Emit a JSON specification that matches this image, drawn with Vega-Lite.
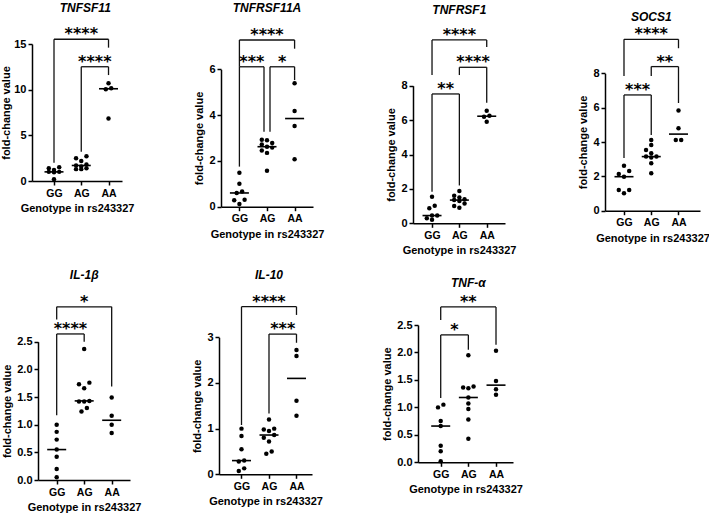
{
"$schema":"https://vega.github.io/schema/vega-lite/v6.json",
"width":709,"height":518,"autosize":"none","padding":0,"background":"white",
"config":{"view":{"stroke":null},
 "axis":{"grid":false,"domainColor":"#000","domainWidth":1.5,"tickColor":"#000","tickWidth":1.5,"tickSize":4,"labelFont":"Liberation Sans","labelFontSize":11,"labelFontWeight":"bold","labelColor":"#000","labelPadding":2,"titleFont":"Liberation Sans","titleFontSize":11,"titleFontWeight":"bold","titleColor":"#000","titlePadding":4},
 "axisX":{"labelAngle":0,"labelPadding":3,"labelFontSize":10.5},
 "circle":{"size":20,"color":"#000","opacity":1},
 "rule":{"color":"#111","strokeWidth":1.3},
 "tick":{"color":"#000","thickness":1.6}
},
"datasets":{
"pts":[
{"p":"TNFSF11","g":"GG","v":1.5},{"p":"TNFSF11","g":"GG","v":1.4},{"p":"TNFSF11","g":"GG","v":1.2},{"p":"TNFSF11","g":"GG","v":1.0},{"p":"TNFSF11","g":"GG","v":1.0},{"p":"TNFSF11","g":"GG","v":0.95},{"p":"TNFSF11","g":"GG","v":0.2},
{"p":"TNFSF11","g":"AG","v":2.7},{"p":"TNFSF11","g":"AG","v":2.5},{"p":"TNFSF11","g":"AG","v":2.2},{"p":"TNFSF11","g":"AG","v":1.8},{"p":"TNFSF11","g":"AG","v":1.7},{"p":"TNFSF11","g":"AG","v":1.6},{"p":"TNFSF11","g":"AG","v":1.4},{"p":"TNFSF11","g":"AG","v":1.3},{"p":"TNFSF11","g":"AG","v":1.3},
{"p":"TNFSF11","g":"AA","v":10.7},{"p":"TNFSF11","g":"AA","v":10.15},{"p":"TNFSF11","g":"AA","v":10.05},{"p":"TNFSF11","g":"AA","v":6.85},
{"p":"TNFRSF11A","g":"GG","v":1.48},{"p":"TNFRSF11A","g":"GG","v":1.0},{"p":"TNFRSF11A","g":"GG","v":0.66},{"p":"TNFRSF11A","g":"GG","v":0.6},{"p":"TNFRSF11A","g":"GG","v":0.3},{"p":"TNFRSF11A","g":"GG","v":0.28},{"p":"TNFRSF11A","g":"GG","v":0.12},
{"p":"TNFRSF11A","g":"AG","v":2.92},{"p":"TNFRSF11A","g":"AG","v":2.9},{"p":"TNFRSF11A","g":"AG","v":2.78},{"p":"TNFRSF11A","g":"AG","v":2.72},{"p":"TNFRSF11A","g":"AG","v":2.62},{"p":"TNFRSF11A","g":"AG","v":2.58},{"p":"TNFRSF11A","g":"AG","v":2.45},{"p":"TNFRSF11A","g":"AG","v":2.35},{"p":"TNFRSF11A","g":"AG","v":1.57},
{"p":"TNFRSF11A","g":"AA","v":5.39},{"p":"TNFRSF11A","g":"AA","v":4.18},{"p":"TNFRSF11A","g":"AA","v":3.52},{"p":"TNFRSF11A","g":"AA","v":2.07},
{"p":"TNFRSF1","g":"GG","v":1.55},{"p":"TNFRSF1","g":"GG","v":1.02},{"p":"TNFRSF1","g":"GG","v":0.87},{"p":"TNFRSF1","g":"GG","v":0.45},{"p":"TNFRSF1","g":"GG","v":0.45},{"p":"TNFRSF1","g":"GG","v":0.3},{"p":"TNFRSF1","g":"GG","v":0.2},
{"p":"TNFRSF1","g":"AG","v":1.88},{"p":"TNFRSF1","g":"AG","v":1.6},{"p":"TNFRSF1","g":"AG","v":1.5},{"p":"TNFRSF1","g":"AG","v":1.4},{"p":"TNFRSF1","g":"AG","v":1.35},{"p":"TNFRSF1","g":"AG","v":1.3},{"p":"TNFRSF1","g":"AG","v":1.15},{"p":"TNFRSF1","g":"AG","v":1.0},{"p":"TNFRSF1","g":"AG","v":0.9},
{"p":"TNFRSF1","g":"AA","v":6.55},{"p":"TNFRSF1","g":"AA","v":6.25},{"p":"TNFRSF1","g":"AA","v":6.2},{"p":"TNFRSF1","g":"AA","v":5.9},
{"p":"SOCS1","g":"GG","v":2.62},{"p":"SOCS1","g":"GG","v":2.31},{"p":"SOCS1","g":"GG","v":2.14},{"p":"SOCS1","g":"GG","v":1.98},{"p":"SOCS1","g":"GG","v":1.2},{"p":"SOCS1","g":"GG","v":1.2},{"p":"SOCS1","g":"GG","v":1.01},
{"p":"SOCS1","g":"AG","v":4.12},{"p":"SOCS1","g":"AG","v":3.83},{"p":"SOCS1","g":"AG","v":3.54},{"p":"SOCS1","g":"AG","v":3.34},{"p":"SOCS1","g":"AG","v":3.15},{"p":"SOCS1","g":"AG","v":3.15},{"p":"SOCS1","g":"AG","v":3.1},{"p":"SOCS1","g":"AG","v":2.76},{"p":"SOCS1","g":"AG","v":2.18},
{"p":"SOCS1","g":"AA","v":5.83},{"p":"SOCS1","g":"AA","v":4.8},{"p":"SOCS1","g":"AA","v":4.12},{"p":"SOCS1","g":"AA","v":4.12},
{"p":"IL-1β","g":"GG","v":1.0},{"p":"IL-1β","g":"GG","v":0.87},{"p":"IL-1β","g":"GG","v":0.73},{"p":"IL-1β","g":"GG","v":0.55},{"p":"IL-1β","g":"GG","v":0.42},{"p":"IL-1β","g":"GG","v":0.2},{"p":"IL-1β","g":"GG","v":0.05},
{"p":"IL-1β","g":"AG","v":2.37},{"p":"IL-1β","g":"AG","v":1.76},{"p":"IL-1β","g":"AG","v":1.73},{"p":"IL-1β","g":"AG","v":1.66},{"p":"IL-1β","g":"AG","v":1.43},{"p":"IL-1β","g":"AG","v":1.42},{"p":"IL-1β","g":"AG","v":1.42},{"p":"IL-1β","g":"AG","v":1.3},{"p":"IL-1β","g":"AG","v":1.24},
{"p":"IL-1β","g":"AA","v":1.49},{"p":"IL-1β","g":"AA","v":1.16},{"p":"IL-1β","g":"AA","v":1.0},{"p":"IL-1β","g":"AA","v":0.85},
{"p":"IL-10","g":"GG","v":1.0},{"p":"IL-10","g":"GG","v":0.84},{"p":"IL-10","g":"GG","v":0.55},{"p":"IL-10","g":"GG","v":0.3},{"p":"IL-10","g":"GG","v":0.28},{"p":"IL-10","g":"GG","v":0.13},{"p":"IL-10","g":"GG","v":0.07},
{"p":"IL-10","g":"AG","v":1.2},{"p":"IL-10","g":"AG","v":1.0},{"p":"IL-10","g":"AG","v":0.98},{"p":"IL-10","g":"AG","v":0.95},{"p":"IL-10","g":"AG","v":0.86},{"p":"IL-10","g":"AG","v":0.8},{"p":"IL-10","g":"AG","v":0.72},{"p":"IL-10","g":"AG","v":0.5},{"p":"IL-10","g":"AG","v":0.45},
{"p":"IL-10","g":"AA","v":2.72},{"p":"IL-10","g":"AA","v":2.59},{"p":"IL-10","g":"AA","v":1.61},{"p":"IL-10","g":"AA","v":1.28},
{"p":"TNF-α","g":"GG","v":1.05},{"p":"TNF-α","g":"GG","v":1.0},{"p":"TNF-α","g":"GG","v":0.75},{"p":"TNF-α","g":"GG","v":0.66},{"p":"TNF-α","g":"GG","v":0.3},{"p":"TNF-α","g":"GG","v":0.2},{"p":"TNF-α","g":"GG","v":0.02},
{"p":"TNF-α","g":"AG","v":1.95},{"p":"TNF-α","g":"AG","v":1.38},{"p":"TNF-α","g":"AG","v":1.36},{"p":"TNF-α","g":"AG","v":1.35},{"p":"TNF-α","g":"AG","v":1.18},{"p":"TNF-α","g":"AG","v":1.07},{"p":"TNF-α","g":"AG","v":0.97},{"p":"TNF-α","g":"AG","v":0.78},{"p":"TNF-α","g":"AG","v":0.43},
{"p":"TNF-α","g":"AA","v":2.03},{"p":"TNF-α","g":"AA","v":1.48},{"p":"TNF-α","g":"AA","v":1.33},{"p":"TNF-α","g":"AA","v":1.23}
],
"br":[
{"p":"TNFSF11","from":"GG","to":"AA","h":15.52,"yl":2.0,"yr":14.6,"s":"****"},
{"p":"TNFSF11","from":"AG","to":"AA","h":12.51,"yl":3.2,"yr":11.6,"s":"****"},
{"p":"TNFRSF11A","from":"GG","to":"AA","h":7.28,"yl":6.11,"yr":6.9,"s":"****"},
{"p":"TNFRSF11A","from":"GG","to":"AG","h":6.11,"yl":1.75,"yr":3.27,"s":"***"},
{"p":"TNFRSF11A","from":"AG","to":"AA","h":6.11,"yl":3.27,"yr":5.53,"s":"*"},
{"p":"TNFRSF1","from":"GG","to":"AA","h":10.66,"yl":8.62,"yr":10.25,"s":"****"},
{"p":"TNFRSF1","from":"AG","to":"AA","h":9.07,"yl":8.62,"yr":7.01,"s":"****"},
{"p":"TNFRSF1","from":"GG","to":"AG","h":7.52,"yl":1.84,"yr":2.2,"s":"**"},
{"p":"SOCS1","from":"GG","to":"AA","h":9.98,"yl":7.84,"yr":9.46,"s":"****"},
{"p":"SOCS1","from":"AG","to":"AA","h":8.39,"yl":7.84,"yr":6.27,"s":"**"},
{"p":"SOCS1","from":"GG","to":"AG","h":6.74,"yl":3.07,"yr":4.41,"s":"***"},
{"p":"IL-1β","from":"GG","to":"AA","h":3.13,"yl":2.9,"yr":1.69,"s":"*"},
{"p":"IL-1β","from":"GG","to":"AG","h":2.64,"yl":1.17,"yr":2.5,"s":"****"},
{"p":"IL-10","from":"GG","to":"AA","h":3.67,"yl":1.08,"yr":3.49,"s":"****"},
{"p":"IL-10","from":"AG","to":"AA","h":3.07,"yl":1.33,"yr":2.88,"s":"***"},
{"p":"TNF-α","from":"GG","to":"AA","h":2.83,"yl":2.59,"yr":2.14,"s":"**"},
{"p":"TNF-α","from":"GG","to":"AG","h":2.32,"yl":1.17,"yr":2.05,"s":"*"}
],
"genes":[{"p":"TNFSF11"},{"p":"TNFRSF11A"},{"p":"TNFRSF1"},{"p":"SOCS1"},{"p":"IL-1β"},{"p":"IL-10"},{"p":"TNF-α"}]
},
"layer":[
{"layer":[
 {"data":{"name":"pts"},"transform":[{"filter":"datum.p==='TNFSF11'"},{"window":[{"op":"lag","field":"v","as":"pv"}],"groupby":["g"],"sort":[{"field":"v"}]},{"calculate":"datum.pv == null || (datum.v - datum.pv) * 9.13 > 4.6 ? 1 : 0","as":"brk"},{"window":[{"op":"sum","field":"brk","as":"cl"}],"groupby":["g"],"sort":[{"field":"v"}],"frame":[null,0]},{"window":[{"op":"row_number","as":"ci"}],"groupby":["g","cl"],"sort":[{"field":"v"}]},{"joinaggregate":[{"op":"count","as":"n"}],"groupby":["g","cl"]},{"calculate":"datum.n == 1 ? 0 : (datum.n == 2 ? (datum.ci == 1 ? -2.7 : 2.7) : [0, -5.2, 5.2][(datum.ci - 1) % 3])","as":"off"}],"mark":{"type":"circle"},
  "encoding":{"x":{"field":"g","type":"nominal","scale":{"type":"point","domain":["GG","AG","AA"],"range":[32,122],"padding":0.651,"align":0.62},"axis":{"orient":"bottom","offset":-337,"title":"Genotype in rs243327"}},
   "xOffset":{"field":"off","type":"quantitative","scale":{"domain":[-20,20],"range":[-20,20]}},
   "y":{"field":"v","type":"quantitative","scale":{"domain":[0,15],"range":[181,44],"nice":false,"zero":false},"axis":{"orient":"left","offset":-32,"values":[0,5,10,15],"format":"d","title":"fold-change value","titlePadding":2}}}},
 {"data":{"name":"pts"},"transform":[{"filter":"datum.p==='TNFSF11'"}],"mark":{"type":"tick","size":19},"encoding":{"x":{"field":"g","type":"nominal"},"y":{"aggregate":"median","field":"v","type":"quantitative"}}},
 {"data":{"name":"br"},"transform":[{"filter":"datum.p==='TNFSF11'"}],"mark":{"type":"rule"},"encoding":{"x":{"field":"from","type":"nominal"},"x2":{"field":"to"},"y":{"field":"h","type":"quantitative"}}},
 {"data":{"name":"br"},"transform":[{"filter":"datum.p==='TNFSF11'"}],"mark":{"type":"rule"},"encoding":{"x":{"field":"from","type":"nominal"},"y":{"field":"h","type":"quantitative"},"y2":{"field":"yl"}}},
 {"data":{"name":"br"},"transform":[{"filter":"datum.p==='TNFSF11'"}],"mark":{"type":"rule"},"encoding":{"x":{"field":"to","type":"nominal"},"y":{"field":"h","type":"quantitative"},"y2":{"field":"yr"}}},
 {"data":{"name":"br"},"transform":[{"filter":"datum.p==='TNFSF11' && datum.from==='GG' && datum.to==='AA'"}],"mark":{"type":"text","font":"DejaVu Sans","fontWeight":"bold","fontSize":16,"baseline":"alphabetic","color":"#000"},"encoding":{"x":{"datum":"AG","type":"nominal"},"y":{"field":"h","type":"quantitative"},"text":{"field":"s"}}},
 {"data":{"name":"br"},"transform":[{"filter":"datum.p==='TNFSF11' && !(datum.from==='GG' && datum.to==='AA')"}],"mark":{"type":"text","font":"DejaVu Sans","fontWeight":"bold","fontSize":16,"baseline":"alphabetic","color":"#000","dx":13.6},"encoding":{"x":{"field":"from","type":"nominal"},"y":{"field":"h","type":"quantitative"},"text":{"field":"s"}}},
 {"data":{"name":"genes"},"transform":[{"filter":"datum.p==='TNFSF11'"}],"mark":{"type":"text","font":"Liberation Sans","fontWeight":"bold","fontStyle":"italic","fontSize":12,"baseline":"middle","color":"#000","dx":4},"encoding":{"x":{"datum":"AG","type":"nominal"},"y":{"datum":18.9,"type":"quantitative"},"text":{"field":"p"}}}
]},
{"layer":[
 {"data":{"name":"pts"},"transform":[{"filter":"datum.p==='TNFRSF11A'"},{"window":[{"op":"lag","field":"v","as":"pv"}],"groupby":["g"],"sort":[{"field":"v"}]},{"calculate":"datum.pv == null || (datum.v - datum.pv) * 22.9 > 4.6 ? 1 : 0","as":"brk"},{"window":[{"op":"sum","field":"brk","as":"cl"}],"groupby":["g"],"sort":[{"field":"v"}],"frame":[null,0]},{"window":[{"op":"row_number","as":"ci"}],"groupby":["g","cl"],"sort":[{"field":"v"}]},{"joinaggregate":[{"op":"count","as":"n"}],"groupby":["g","cl"]},{"calculate":"datum.n == 1 ? 0 : (datum.n == 2 ? (datum.ci == 1 ? -2.7 : 2.7) : [0, -5.2, 5.2][(datum.ci - 1) % 3])","as":"off"}],"mark":{"type":"circle"},
  "encoding":{"x":{"field":"g","type":"nominal","scale":{"type":"point","domain":["GG","AG","AA"],"range":[221,313],"padding":0.667,"align":0.5},"axis":{"orient":"bottom","offset":-311.3,"title":"Genotype in rs243327"}},
   "xOffset":{"field":"off","type":"quantitative","scale":{"domain":[-20,20],"range":[-20,20]}},
   "y":{"field":"v","type":"quantitative","scale":{"domain":[0,6],"range":[206.7,69.3],"nice":false,"zero":false},"axis":{"orient":"left","offset":-221,"values":[0,2,4,6],"format":"d","title":"fold-change value"}}}},
 {"data":{"name":"pts"},"transform":[{"filter":"datum.p==='TNFRSF11A'"}],"mark":{"type":"tick","size":19},"encoding":{"x":{"field":"g","type":"nominal"},"y":{"aggregate":"median","field":"v","type":"quantitative"}}},
 {"data":{"name":"br"},"transform":[{"filter":"datum.p==='TNFRSF11A' && datum.from==='GG' && datum.to==='AA'"}],"mark":{"type":"rule"},"encoding":{"x":{"field":"from","type":"nominal"},"x2":{"field":"to"},"y":{"field":"h","type":"quantitative"}}},
 {"data":{"name":"br"},"transform":[{"filter":"datum.p==='TNFRSF11A' && datum.to==='AG'"}],"mark":{"type":"rule","x2Offset":-3},"encoding":{"x":{"field":"from","type":"nominal"},"x2":{"field":"to"},"y":{"field":"h","type":"quantitative"}}},
 {"data":{"name":"br"},"transform":[{"filter":"datum.p==='TNFRSF11A' && datum.from==='AG'"}],"mark":{"type":"rule","xOffset":3},"encoding":{"x":{"field":"from","type":"nominal"},"x2":{"field":"to"},"y":{"field":"h","type":"quantitative"}}},
 {"data":{"name":"br"},"transform":[{"filter":"datum.p==='TNFRSF11A' && datum.from==='GG'"}],"mark":{"type":"rule"},"encoding":{"x":{"field":"from","type":"nominal"},"y":{"field":"h","type":"quantitative"},"y2":{"field":"yl"}}},
 {"data":{"name":"br"},"transform":[{"filter":"datum.p==='TNFRSF11A' && datum.from==='AG'"}],"mark":{"type":"rule","xOffset":3},"encoding":{"x":{"field":"from","type":"nominal"},"y":{"field":"h","type":"quantitative"},"y2":{"field":"yl"}}},
 {"data":{"name":"br"},"transform":[{"filter":"datum.p==='TNFRSF11A' && datum.to==='AA'"}],"mark":{"type":"rule"},"encoding":{"x":{"field":"to","type":"nominal"},"y":{"field":"h","type":"quantitative"},"y2":{"field":"yr"}}},
 {"data":{"name":"br"},"transform":[{"filter":"datum.p==='TNFRSF11A' && datum.to==='AG'"}],"mark":{"type":"rule","xOffset":-3},"encoding":{"x":{"field":"to","type":"nominal"},"y":{"field":"h","type":"quantitative"},"y2":{"field":"yr"}}},
 {"data":{"name":"br"},"transform":[{"filter":"datum.p==='TNFRSF11A' && datum.from==='GG' && datum.to==='AA'"}],"mark":{"type":"text","font":"DejaVu Sans","fontWeight":"bold","fontSize":16,"baseline":"alphabetic","color":"#000"},"encoding":{"x":{"datum":"AG","type":"nominal"},"y":{"field":"h","type":"quantitative"},"text":{"field":"s"}}},
 {"data":{"name":"br"},"transform":[{"filter":"datum.p==='TNFRSF11A' && datum.to==='AG'"}],"mark":{"type":"text","font":"DejaVu Sans","fontWeight":"bold","fontSize":16,"baseline":"alphabetic","color":"#000","dx":12.4},"encoding":{"x":{"field":"from","type":"nominal"},"y":{"field":"h","type":"quantitative"},"text":{"field":"s"}}},
 {"data":{"name":"br"},"transform":[{"filter":"datum.p==='TNFRSF11A' && datum.from==='AG'"}],"mark":{"type":"text","font":"DejaVu Sans","fontWeight":"bold","fontSize":16,"baseline":"alphabetic","color":"#000","dx":15.3},"encoding":{"x":{"field":"from","type":"nominal"},"y":{"field":"h","type":"quantitative"},"text":{"field":"s"}}},
 {"data":{"name":"genes"},"transform":[{"filter":"datum.p==='TNFRSF11A'"}],"mark":{"type":"text","font":"Liberation Sans","fontWeight":"bold","fontStyle":"italic","fontSize":12,"baseline":"middle","color":"#000"},"encoding":{"x":{"datum":"AG","type":"nominal"},"y":{"datum":8.66,"type":"quantitative"},"text":{"field":"p"}}}
]},
{"layer":[
 {"data":{"name":"pts"},"transform":[{"filter":"datum.p==='TNFRSF1'"},{"window":[{"op":"lag","field":"v","as":"pv"}],"groupby":["g"],"sort":[{"field":"v"}]},{"calculate":"datum.pv == null || (datum.v - datum.pv) * 17.2 > 4.6 ? 1 : 0","as":"brk"},{"window":[{"op":"sum","field":"brk","as":"cl"}],"groupby":["g"],"sort":[{"field":"v"}],"frame":[null,0]},{"window":[{"op":"row_number","as":"ci"}],"groupby":["g","cl"],"sort":[{"field":"v"}]},{"joinaggregate":[{"op":"count","as":"n"}],"groupby":["g","cl"]},{"calculate":"datum.n == 1 ? 0 : (datum.n == 2 ? (datum.ci == 1 ? -2.7 : 2.7) : [0, -5.2, 5.2][(datum.ci - 1) % 3])","as":"off"}],"mark":{"type":"circle"},
  "encoding":{"x":{"field":"g","type":"nominal","scale":{"type":"point","domain":["GG","AG","AA"],"range":[413,505],"padding":0.682,"align":0.51},"axis":{"orient":"bottom","offset":-294.7,"title":"Genotype in rs243327"}},
   "xOffset":{"field":"off","type":"quantitative","scale":{"domain":[-20,20],"range":[-20,20]}},
   "y":{"field":"v","type":"quantitative","scale":{"domain":[0,8],"range":[223.3,85.7],"nice":false,"zero":false},"axis":{"orient":"left","offset":-413,"values":[0,2,4,6,8],"format":"d","title":"fold-change value"}}}},
 {"data":{"name":"pts"},"transform":[{"filter":"datum.p==='TNFRSF1'"}],"mark":{"type":"tick","size":19},"encoding":{"x":{"field":"g","type":"nominal"},"y":{"aggregate":"median","field":"v","type":"quantitative"}}},
 {"data":{"name":"br"},"transform":[{"filter":"datum.p==='TNFRSF1'"}],"mark":{"type":"rule"},"encoding":{"x":{"field":"from","type":"nominal"},"x2":{"field":"to"},"y":{"field":"h","type":"quantitative"}}},
 {"data":{"name":"br"},"transform":[{"filter":"datum.p==='TNFRSF1'"}],"mark":{"type":"rule"},"encoding":{"x":{"field":"from","type":"nominal"},"y":{"field":"h","type":"quantitative"},"y2":{"field":"yl"}}},
 {"data":{"name":"br"},"transform":[{"filter":"datum.p==='TNFRSF1'"}],"mark":{"type":"rule"},"encoding":{"x":{"field":"to","type":"nominal"},"y":{"field":"h","type":"quantitative"},"y2":{"field":"yr"}}},
 {"data":{"name":"br"},"transform":[{"filter":"datum.p==='TNFRSF1' && datum.from==='GG' && datum.to==='AA'"}],"mark":{"type":"text","font":"DejaVu Sans","fontWeight":"bold","fontSize":16,"baseline":"alphabetic","color":"#000"},"encoding":{"x":{"datum":"AG","type":"nominal"},"y":{"field":"h","type":"quantitative"},"text":{"field":"s"}}},
 {"data":{"name":"br"},"transform":[{"filter":"datum.p==='TNFRSF1' && !(datum.from==='GG' && datum.to==='AA')"}],"mark":{"type":"text","font":"DejaVu Sans","fontWeight":"bold","fontSize":16,"baseline":"alphabetic","color":"#000","dx":13.7},"encoding":{"x":{"field":"from","type":"nominal"},"y":{"field":"h","type":"quantitative"},"text":{"field":"s"}}},
 {"data":{"name":"genes"},"transform":[{"filter":"datum.p==='TNFRSF1'"}],"mark":{"type":"text","font":"Liberation Sans","fontWeight":"bold","fontStyle":"italic","fontSize":12,"baseline":"middle","color":"#000"},"encoding":{"x":{"datum":"AG","type":"nominal"},"y":{"datum":12.4,"type":"quantitative"},"text":{"field":"p"}}}
]},
{"layer":[
 {"data":{"name":"pts"},"transform":[{"filter":"datum.p==='SOCS1'"},{"window":[{"op":"lag","field":"v","as":"pv"}],"groupby":["g"],"sort":[{"field":"v"}]},{"calculate":"datum.pv == null || (datum.v - datum.pv) * 17.17 > 4.6 ? 1 : 0","as":"brk"},{"window":[{"op":"sum","field":"brk","as":"cl"}],"groupby":["g"],"sort":[{"field":"v"}],"frame":[null,0]},{"window":[{"op":"row_number","as":"ci"}],"groupby":["g","cl"],"sort":[{"field":"v"}]},{"joinaggregate":[{"op":"count","as":"n"}],"groupby":["g","cl"]},{"calculate":"datum.n == 1 ? 0 : (datum.n == 2 ? (datum.ci == 1 ? -2.7 : 2.7) : [0, -5.2, 5.2][(datum.ci - 1) % 3])","as":"off"}],"mark":{"type":"circle"},
  "encoding":{"x":{"field":"g","type":"nominal","scale":{"type":"point","domain":["GG","AG","AA"],"range":[605,700],"padding":0.743,"align":0.469},"axis":{"orient":"bottom","offset":-307.3,"title":"Genotype in rs243327"}},
   "xOffset":{"field":"off","type":"quantitative","scale":{"domain":[-20,20],"range":[-20,20]}},
   "y":{"field":"v","type":"quantitative","scale":{"domain":[0,8],"range":[210.7,73.3],"nice":false,"zero":false},"axis":{"orient":"left","offset":-605,"values":[0,2,4,6,8],"format":"d","title":"fold-change value"}}}},
 {"data":{"name":"pts"},"transform":[{"filter":"datum.p==='SOCS1'"}],"mark":{"type":"tick","size":19},"encoding":{"x":{"field":"g","type":"nominal"},"y":{"aggregate":"median","field":"v","type":"quantitative"}}},
 {"data":{"name":"br"},"transform":[{"filter":"datum.p==='SOCS1'"}],"mark":{"type":"rule"},"encoding":{"x":{"field":"from","type":"nominal"},"x2":{"field":"to"},"y":{"field":"h","type":"quantitative"}}},
 {"data":{"name":"br"},"transform":[{"filter":"datum.p==='SOCS1'"}],"mark":{"type":"rule"},"encoding":{"x":{"field":"from","type":"nominal"},"y":{"field":"h","type":"quantitative"},"y2":{"field":"yl"}}},
 {"data":{"name":"br"},"transform":[{"filter":"datum.p==='SOCS1'"}],"mark":{"type":"rule"},"encoding":{"x":{"field":"to","type":"nominal"},"y":{"field":"h","type":"quantitative"},"y2":{"field":"yr"}}},
 {"data":{"name":"br"},"transform":[{"filter":"datum.p==='SOCS1' && datum.from==='GG' && datum.to==='AA'"}],"mark":{"type":"text","font":"DejaVu Sans","fontWeight":"bold","fontSize":16,"baseline":"alphabetic","color":"#000"},"encoding":{"x":{"datum":"AG","type":"nominal"},"y":{"field":"h","type":"quantitative"},"text":{"field":"s"}}},
 {"data":{"name":"br"},"transform":[{"filter":"datum.p==='SOCS1' && !(datum.from==='GG' && datum.to==='AA')"}],"mark":{"type":"text","font":"DejaVu Sans","fontWeight":"bold","fontSize":16,"baseline":"alphabetic","color":"#000","dx":13.6},"encoding":{"x":{"field":"from","type":"nominal"},"y":{"field":"h","type":"quantitative"},"text":{"field":"s"}}},
 {"data":{"name":"genes"},"transform":[{"filter":"datum.p==='SOCS1'"}],"mark":{"type":"text","font":"Liberation Sans","fontWeight":"bold","fontStyle":"italic","fontSize":12,"baseline":"middle","color":"#000"},"encoding":{"x":{"datum":"AG","type":"nominal"},"y":{"datum":11.3,"type":"quantitative"},"text":{"field":"p"}}}
]},
{"layer":[
 {"data":{"name":"pts"},"transform":[{"filter":"datum.p==='IL-1β'"},{"window":[{"op":"lag","field":"v","as":"pv"}],"groupby":["g"],"sort":[{"field":"v"}]},{"calculate":"datum.pv == null || (datum.v - datum.pv) * 55.3 > 4.6 ? 1 : 0","as":"brk"},{"window":[{"op":"sum","field":"brk","as":"cl"}],"groupby":["g"],"sort":[{"field":"v"}],"frame":[null,0]},{"window":[{"op":"row_number","as":"ci"}],"groupby":["g","cl"],"sort":[{"field":"v"}]},{"joinaggregate":[{"op":"count","as":"n"}],"groupby":["g","cl"]},{"calculate":"datum.n == 1 ? 0 : (datum.n == 2 ? (datum.ci == 1 ? -2.7 : 2.7) : [0, -5.2, 5.2][(datum.ci - 1) % 3])","as":"off"}],"mark":{"type":"circle"},
  "encoding":{"x":{"field":"g","type":"nominal","scale":{"type":"point","domain":["GG","AG","AA"],"range":[38,130],"padding":0.673,"align":0.505},"axis":{"orient":"bottom","offset":-38,"title":"Genotype in rs243327"}},
   "xOffset":{"field":"off","type":"quantitative","scale":{"domain":[-20,20],"range":[-20,20]}},
   "y":{"field":"v","type":"quantitative","scale":{"domain":[0,2.5],"range":[480,341.7],"nice":false,"zero":false},"axis":{"orient":"left","offset":-38,"values":[0,0.5,1,1.5,2,2.5],"format":".1f","title":"fold-change value"}}}},
 {"data":{"name":"pts"},"transform":[{"filter":"datum.p==='IL-1β'"}],"mark":{"type":"tick","size":19},"encoding":{"x":{"field":"g","type":"nominal"},"y":{"aggregate":"median","field":"v","type":"quantitative"}}},
 {"data":{"name":"br"},"transform":[{"filter":"datum.p==='IL-1β'"}],"mark":{"type":"rule"},"encoding":{"x":{"field":"from","type":"nominal"},"x2":{"field":"to"},"y":{"field":"h","type":"quantitative"}}},
 {"data":{"name":"br"},"transform":[{"filter":"datum.p==='IL-1β'"}],"mark":{"type":"rule"},"encoding":{"x":{"field":"from","type":"nominal"},"y":{"field":"h","type":"quantitative"},"y2":{"field":"yl"}}},
 {"data":{"name":"br"},"transform":[{"filter":"datum.p==='IL-1β'"}],"mark":{"type":"rule"},"encoding":{"x":{"field":"to","type":"nominal"},"y":{"field":"h","type":"quantitative"},"y2":{"field":"yr"}}},
 {"data":{"name":"br"},"transform":[{"filter":"datum.p==='IL-1β' && datum.from==='GG' && datum.to==='AA'"}],"mark":{"type":"text","font":"DejaVu Sans","fontWeight":"bold","fontSize":16,"baseline":"alphabetic","color":"#000"},"encoding":{"x":{"datum":"AG","type":"nominal"},"y":{"field":"h","type":"quantitative"},"text":{"field":"s"}}},
 {"data":{"name":"br"},"transform":[{"filter":"datum.p==='IL-1β' && !(datum.from==='GG' && datum.to==='AA')"}],"mark":{"type":"text","font":"DejaVu Sans","fontWeight":"bold","fontSize":16,"baseline":"alphabetic","color":"#000","dx":13.8},"encoding":{"x":{"field":"from","type":"nominal"},"y":{"field":"h","type":"quantitative"},"text":{"field":"s"}}},
 {"data":{"name":"genes"},"transform":[{"filter":"datum.p==='IL-1β'"}],"mark":{"type":"text","font":"Liberation Sans","fontWeight":"bold","fontStyle":"italic","fontSize":12,"baseline":"middle","color":"#000"},"encoding":{"x":{"datum":"AG","type":"nominal"},"y":{"datum":3.71,"type":"quantitative"},"text":{"field":"p"}}}
]},
{"layer":[
 {"data":{"name":"pts"},"transform":[{"filter":"datum.p==='IL-10'"},{"window":[{"op":"lag","field":"v","as":"pv"}],"groupby":["g"],"sort":[{"field":"v"}]},{"calculate":"datum.pv == null || (datum.v - datum.pv) * 45.7 > 4.6 ? 1 : 0","as":"brk"},{"window":[{"op":"sum","field":"brk","as":"cl"}],"groupby":["g"],"sort":[{"field":"v"}],"frame":[null,0]},{"window":[{"op":"row_number","as":"ci"}],"groupby":["g","cl"],"sort":[{"field":"v"}]},{"joinaggregate":[{"op":"count","as":"n"}],"groupby":["g","cl"]},{"calculate":"datum.n == 1 ? 0 : (datum.n == 2 ? (datum.ci == 1 ? -2.7 : 2.7) : [0, -5.2, 5.2][(datum.ci - 1) % 3])","as":"off"}],"mark":{"type":"circle"},
  "encoding":{"x":{"field":"g","type":"nominal","scale":{"type":"point","domain":["GG","AG","AA"],"range":[219,312],"padding":0.691,"align":0.592},"axis":{"orient":"bottom","offset":-43.7,"title":"Genotype in rs243327"}},
   "xOffset":{"field":"off","type":"quantitative","scale":{"domain":[-20,20],"range":[-20,20]}},
   "y":{"field":"v","type":"quantitative","scale":{"domain":[0,3],"range":[474.3,337.3],"nice":false,"zero":false},"axis":{"orient":"left","offset":-219,"values":[0,1,2,3],"format":"d","title":"fold-change value"}}}},
 {"data":{"name":"pts"},"transform":[{"filter":"datum.p==='IL-10'"}],"mark":{"type":"tick","size":19},"encoding":{"x":{"field":"g","type":"nominal"},"y":{"aggregate":"median","field":"v","type":"quantitative"}}},
 {"data":{"name":"br"},"transform":[{"filter":"datum.p==='IL-10'"}],"mark":{"type":"rule"},"encoding":{"x":{"field":"from","type":"nominal"},"x2":{"field":"to"},"y":{"field":"h","type":"quantitative"}}},
 {"data":{"name":"br"},"transform":[{"filter":"datum.p==='IL-10'"}],"mark":{"type":"rule"},"encoding":{"x":{"field":"from","type":"nominal"},"y":{"field":"h","type":"quantitative"},"y2":{"field":"yl"}}},
 {"data":{"name":"br"},"transform":[{"filter":"datum.p==='IL-10'"}],"mark":{"type":"rule"},"encoding":{"x":{"field":"to","type":"nominal"},"y":{"field":"h","type":"quantitative"},"y2":{"field":"yr"}}},
 {"data":{"name":"br"},"transform":[{"filter":"datum.p==='IL-10' && datum.from==='GG' && datum.to==='AA'"}],"mark":{"type":"text","font":"DejaVu Sans","fontWeight":"bold","fontSize":16,"baseline":"alphabetic","color":"#000"},"encoding":{"x":{"datum":"AG","type":"nominal"},"y":{"field":"h","type":"quantitative"},"text":{"field":"s"}}},
 {"data":{"name":"br"},"transform":[{"filter":"datum.p==='IL-10' && !(datum.from==='GG' && datum.to==='AA')"}],"mark":{"type":"text","font":"DejaVu Sans","fontWeight":"bold","fontSize":16,"baseline":"alphabetic","color":"#000","dx":13.8},"encoding":{"x":{"field":"from","type":"nominal"},"y":{"field":"h","type":"quantitative"},"text":{"field":"s"}}},
 {"data":{"name":"genes"},"transform":[{"filter":"datum.p==='IL-10'"}],"mark":{"type":"text","font":"Liberation Sans","fontWeight":"bold","fontStyle":"italic","fontSize":12,"baseline":"middle","color":"#000"},"encoding":{"x":{"datum":"AG","type":"nominal"},"y":{"datum":4.36,"type":"quantitative"},"text":{"field":"p"}}}
]},
{"layer":[
 {"data":{"name":"pts"},"transform":[{"filter":"datum.p==='TNF-α'"},{"window":[{"op":"lag","field":"v","as":"pv"}],"groupby":["g"],"sort":[{"field":"v"}]},{"calculate":"datum.pv == null || (datum.v - datum.pv) * 54.9 > 4.6 ? 1 : 0","as":"brk"},{"window":[{"op":"sum","field":"brk","as":"cl"}],"groupby":["g"],"sort":[{"field":"v"}],"frame":[null,0]},{"window":[{"op":"row_number","as":"ci"}],"groupby":["g","cl"],"sort":[{"field":"v"}]},{"joinaggregate":[{"op":"count","as":"n"}],"groupby":["g","cl"]},{"calculate":"datum.n == 1 ? 0 : (datum.n == 2 ? (datum.ci == 1 ? -2.7 : 2.7) : [0, -5.2, 5.2][(datum.ci - 1) % 3])","as":"off"}],"mark":{"type":"circle"},
  "encoding":{"x":{"field":"g","type":"nominal","scale":{"type":"point","domain":["GG","AG","AA"],"range":[418,513],"padding":0.718,"align":0.572},"axis":{"orient":"bottom","offset":-55.7,"title":"Genotype in rs243327"}},
   "xOffset":{"field":"off","type":"quantitative","scale":{"domain":[-20,20],"range":[-20,20]}},
   "y":{"field":"v","type":"quantitative","scale":{"domain":[0,2.5],"range":[462.3,325],"nice":false,"zero":false},"axis":{"orient":"left","offset":-418,"values":[0,0.5,1,1.5,2,2.5],"format":".1f","title":"fold-change value"}}}},
 {"data":{"name":"pts"},"transform":[{"filter":"datum.p==='TNF-α'"}],"mark":{"type":"tick","size":19},"encoding":{"x":{"field":"g","type":"nominal"},"y":{"aggregate":"median","field":"v","type":"quantitative"}}},
 {"data":{"name":"br"},"transform":[{"filter":"datum.p==='TNF-α'"}],"mark":{"type":"rule"},"encoding":{"x":{"field":"from","type":"nominal"},"x2":{"field":"to"},"y":{"field":"h","type":"quantitative"}}},
 {"data":{"name":"br"},"transform":[{"filter":"datum.p==='TNF-α'"}],"mark":{"type":"rule"},"encoding":{"x":{"field":"from","type":"nominal"},"y":{"field":"h","type":"quantitative"},"y2":{"field":"yl"}}},
 {"data":{"name":"br"},"transform":[{"filter":"datum.p==='TNF-α'"}],"mark":{"type":"rule"},"encoding":{"x":{"field":"to","type":"nominal"},"y":{"field":"h","type":"quantitative"},"y2":{"field":"yr"}}},
 {"data":{"name":"br"},"transform":[{"filter":"datum.p==='TNF-α' && datum.from==='GG' && datum.to==='AA'"}],"mark":{"type":"text","font":"DejaVu Sans","fontWeight":"bold","fontSize":16,"baseline":"alphabetic","color":"#000"},"encoding":{"x":{"datum":"AG","type":"nominal"},"y":{"field":"h","type":"quantitative"},"text":{"field":"s"}}},
 {"data":{"name":"br"},"transform":[{"filter":"datum.p==='TNF-α' && !(datum.from==='GG' && datum.to==='AA')"}],"mark":{"type":"text","font":"DejaVu Sans","fontWeight":"bold","fontSize":16,"baseline":"alphabetic","color":"#000","dx":13.8},"encoding":{"x":{"field":"from","type":"nominal"},"y":{"field":"h","type":"quantitative"},"text":{"field":"s"}}},
 {"data":{"name":"genes"},"transform":[{"filter":"datum.p==='TNF-α'"}],"mark":{"type":"text","font":"Liberation Sans","fontWeight":"bold","fontStyle":"italic","fontSize":12,"baseline":"middle","color":"#000"},"encoding":{"x":{"datum":"AG","type":"nominal"},"y":{"datum":3.26,"type":"quantitative"},"text":{"field":"p"}}}
]}
],
"resolve":{"scale":{"x":"independent","y":"independent"},"axis":{"x":"independent","y":"independent"}}
}
